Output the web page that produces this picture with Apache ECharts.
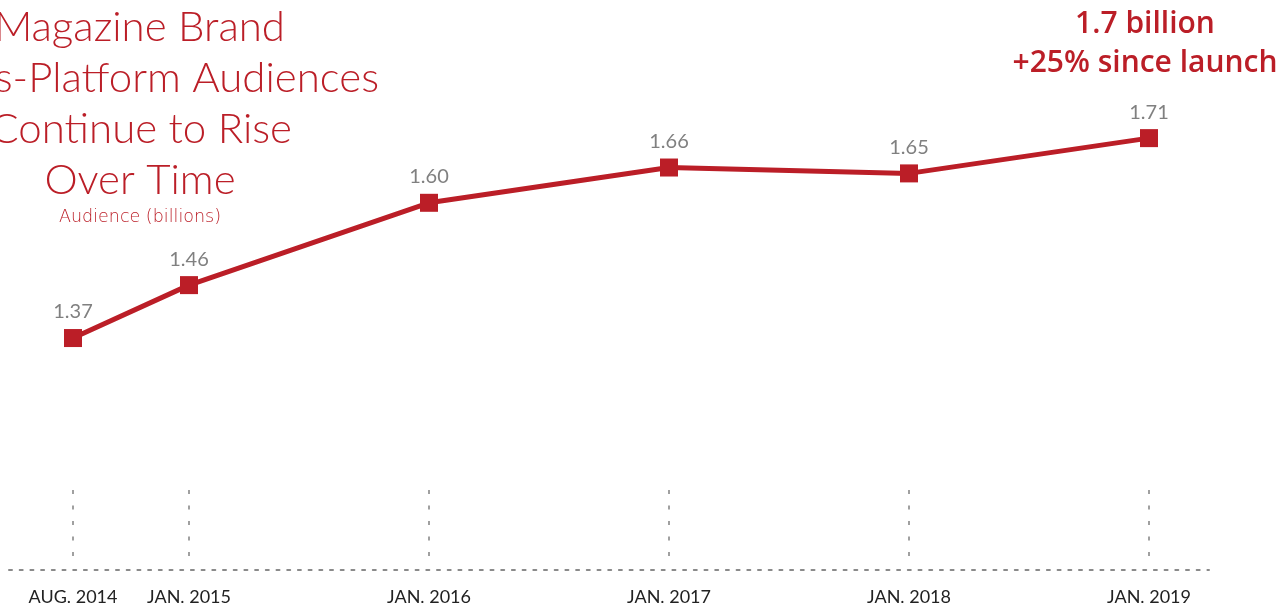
<!DOCTYPE html>
<html>
<head>
<meta charset="utf-8">
<script src="https://cdn.jsdelivr.net/npm/echarts@6/dist/echarts.min.js"></script>
<style>html,body{margin:0;padding:0;background:#fff;}#c{width:1283px;height:606px;}</style>
</head>
<body>
<div id="c"></div>
<script>
// x positions in months since Jan 2014 (as placed on the reference)
const xMonths = [6.2, 12, 24, 36, 48, 60];
const tickLabels = ['AUG. 2014', 'JAN. 2015', 'JAN. 2016', 'JAN. 2017', 'JAN. 2018', 'JAN. 2019'];
const audience = [1.37, 1.46, 1.60, 1.66, 1.65, 1.71];
const titleLines = ['Magazine Brand', 's-Platform Audiences', 'Continue to Rise', 'Over Time'];
const subtitle = 'Audience (billions)';
const callout = ['1.7 billion', '+25% since launch'];

const RED = '#bb1e27';
const FONT = 'Lato, "Open Sans", sans-serif';

const chart = echarts.init(document.getElementById('c'));
const labelMap = {};
xMonths.forEach((m, i) => labelMap[m] = tickLabels[i]);

const titleX = [285, 379, 292, 140];
const titleAlign = ['right', 'right', 'right', 'center'];
const graphics = titleLines.map((t, i) => ({
  type: 'text', x: titleX[i], y: 27 + i * 51.3,
  style: { text: t, fill: RED, font: '300 42px ' + FONT, textAlign: titleAlign[i], textVerticalAlign: 'middle' }
}));
graphics.push({ type: 'text', x: 140, y: 217, style: { text: subtitle, fill: RED, font: '300 17.5px "DejaVu Sans", sans-serif', textAlign: 'center', textVerticalAlign: 'middle' } });
callout.forEach((t, i) => graphics.push({
  type: 'text', x: 1145, y: 24 + i * 39.5,
  style: { text: t, fill: RED, font: '600 30px "Open Sans", sans-serif', textAlign: 'center', textVerticalAlign: 'middle' }
}));

chart.setOption({
  animation: false,
  graphic: graphics,
  grid: [
    { left: 9, width: 1200, top: 26.4, height: 470.4 },
    { left: 9, width: 1200, top: 490, height: 66 },
    { left: 9, width: 1200, top: 500, height: 70 }
  ],
  xAxis: [
    { type: 'value', gridIndex: 0, min: 3, max: 63, show: false },
    { type: 'value', gridIndex: 1, min: 3, max: 63, position: 'bottom',
      axisLine: { show: false }, splitLine: { show: false }, axisLabel: { show: false },
      axisTick: { show: true, inside: true, length: 66, customValues: xMonths,
        lineStyle: { color: '#a0a0a0', width: 2, type: [4, 11.5] } } },
    { type: 'value', gridIndex: 2, min: 3, max: 63, position: 'bottom',
      axisLine: { show: true, lineStyle: { color: '#8a8a8a', width: 2, type: [3, 7.7] } },
      splitLine: { show: false }, axisTick: { show: false },
      axisLabel: { show: true, customValues: xMonths, margin: 18,
        formatter: v => labelMap[v] || '', color: '#222', fontSize: 18, fontFamily: FONT, fontWeight: 400 } }
  ],
  yAxis: [
    { type: 'value', gridIndex: 0, min: 1.1, max: 1.9, show: false },
    { type: 'value', gridIndex: 1, show: false },
    { type: 'value', gridIndex: 2, show: false }
  ],
  series: [{
    type: 'line', xAxisIndex: 0, yAxisIndex: 0,
    data: xMonths.map((m, i) => [m, audience[i]]),
    symbol: 'rect', symbolSize: 18,
    lineStyle: { color: RED, width: 5 },
    itemStyle: { color: RED },
    label: { show: true, position: 'top', distance: 7, color: '#808080', fontSize: 20, fontFamily: FONT,
      formatter: p => audience[p.dataIndex].toFixed(2) }
  }]
});
</script>
</body>
</html>
